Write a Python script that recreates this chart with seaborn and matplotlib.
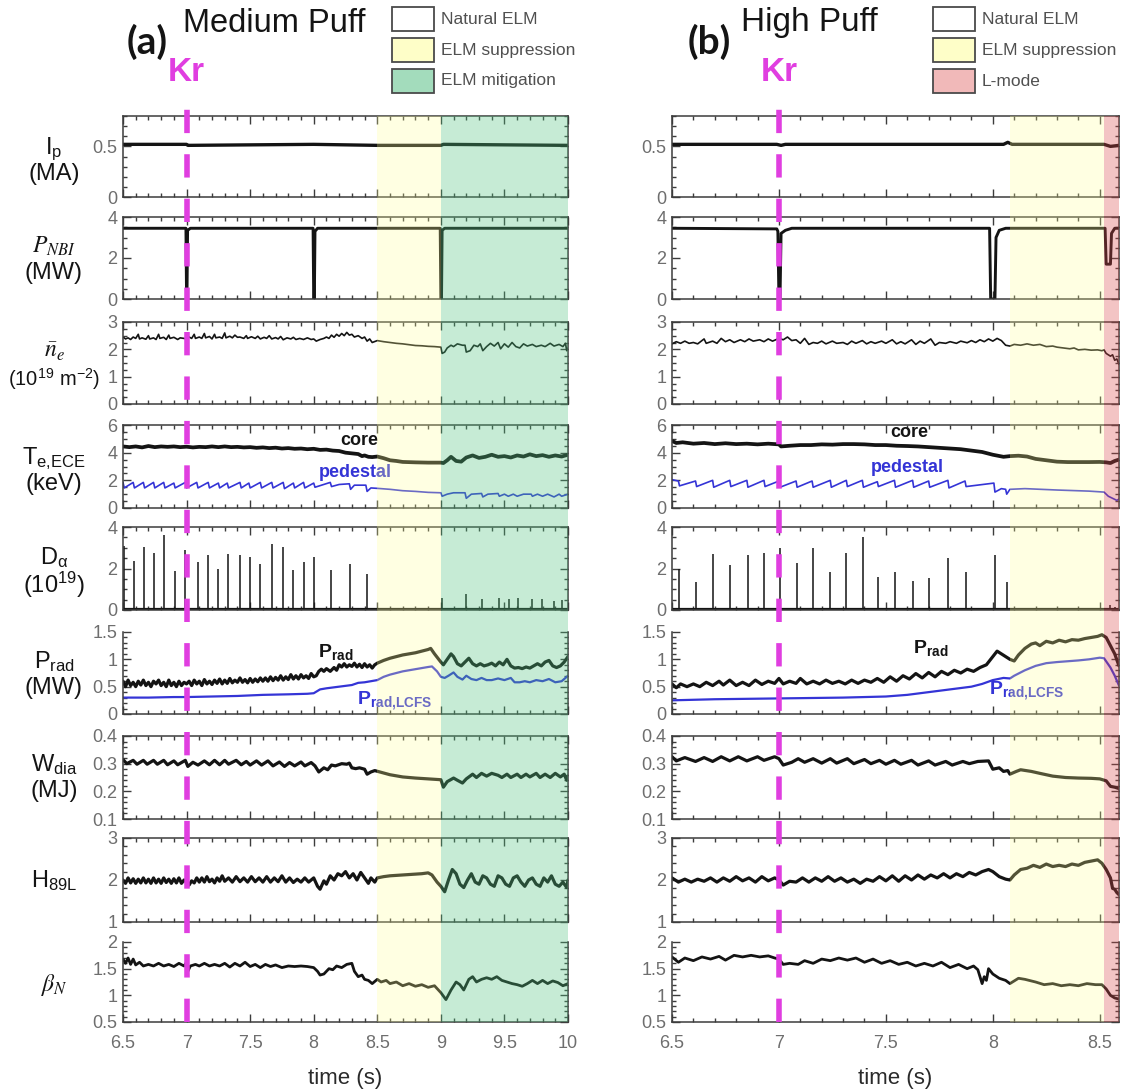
import matplotlib
matplotlib.use("Agg")
import matplotlib.pyplot as plt
import seaborn as sns
from matplotlib.patches import Rectangle
from matplotlib.ticker import MultipleLocator, FuncFormatter

sns.set_theme(style="ticks")
plt.rcParams["font.family"] = ["Liberation Sans", "DejaVu Sans"]
plt.rcParams["mathtext.fontset"] = "custom"
plt.rcParams["mathtext.rm"] = "Liberation Sans"
plt.rcParams["mathtext.it"] = "Liberation Sans:italic"
plt.rcParams["mathtext.bf"] = "Liberation Sans:bold"

# ---------------------------------------------------------------- data
KR_TIME = 7.0
XLIM_A = (6.5, 10.0)
XLIM_B = (6.5, 8.59)

# phase windows (start, end)
SUPPRESSION_A = (8.5, 9.0)
MITIGATION_A = (9.0, 10.0)
SUPPRESSION_B = (8.08, 8.52)
LMODE_B = (8.52, 8.59)

# plasma current (MA)
ip_a = [(6.5, 0.52), (7.0, 0.52), (7.01, 0.51), (8.0, 0.52), (8.5, 0.51),
        (9.0, 0.51), (9.02, 0.52), (10.0, 0.51)]
ip_b = [(6.5, 0.52), (6.99, 0.52), (7.01, 0.51), (7.03, 0.52), (8.05, 0.52),
        (8.07, 0.54), (8.09, 0.52), (8.52, 0.52), (8.55, 0.50), (8.59, 0.51)]

# NBI power (MW)
pnbi_a = [(6.5, 3.45), (6.995, 3.45), (7.0, 0.0), (7.003, 0.0), (7.008, 3.35),
          (7.03, 3.45), (7.995, 3.45), (8.0, 0.0), (8.005, 0.0), (8.01, 3.3),
          (8.03, 3.45), (8.995, 3.45), (9.0, 0.0), (9.005, 0.0), (9.01, 3.35),
          (9.03, 3.45), (10.0, 3.45)]
pnbi_b = [(6.5, 3.45), (6.99, 3.42), (6.995, 3.3), (7.0, 0.0), (7.005, 0.0),
          (7.01, 3.2), (7.03, 3.35), (7.06, 3.45), (7.985, 3.45), (7.99, 0.0),
          (8.01, 0.0), (8.015, 3.0), (8.03, 3.35), (8.06, 3.45), (8.525, 3.45),
          (8.53, 1.7), (8.55, 1.7), (8.555, 3.2), (8.57, 3.45), (8.59, 3.45)]

# line-averaged density (1e19 m^-2)
ne_a = [(6.50, 2.45), (6.52, 2.38), (6.54, 2.42), (6.56, 2.36), (6.58, 2.45),
        (6.60, 2.40), (6.62, 2.55), (6.63, 2.38), (6.65, 2.42), (6.68, 2.37),
        (6.70, 2.50), (6.71, 2.38), (6.74, 2.42), (6.76, 2.36), (6.78, 2.55),
        (6.79, 2.40), (6.82, 2.44), (6.84, 2.36), (6.86, 2.52), (6.87, 2.40),
        (6.90, 2.44), (6.93, 2.36), (6.95, 2.42), (6.98, 2.40), (7.00, 2.38),
        (7.02, 2.45), (7.04, 2.40), (7.06, 2.55), (7.07, 2.40), (7.10, 2.45),
        (7.12, 2.40), (7.14, 2.58), (7.15, 2.42), (7.18, 2.47), (7.20, 2.38),
        (7.22, 2.55), (7.23, 2.42), (7.26, 2.45), (7.28, 2.40), (7.30, 2.60),
        (7.31, 2.42), (7.34, 2.48), (7.36, 2.42), (7.38, 2.52), (7.40, 2.44),
        (7.42, 2.45), (7.45, 2.40), (7.47, 2.50), (7.48, 2.40), (7.51, 2.46),
        (7.54, 2.40), (7.56, 2.48), (7.58, 2.38), (7.61, 2.44), (7.63, 2.40),
        (7.65, 2.50), (7.67, 2.38), (7.70, 2.43), (7.72, 2.38), (7.74, 2.47),
        (7.76, 2.35), (7.79, 2.42), (7.82, 2.38), (7.84, 2.44), (7.86, 2.36),
        (7.89, 2.40), (7.92, 2.36), (7.95, 2.42), (7.98, 2.36), (8.00, 2.38),
        (8.02, 2.30), (8.05, 2.36), (8.08, 2.40), (8.10, 2.45), (8.12, 2.40),
        (8.14, 2.52), (8.16, 2.44), (8.18, 2.55), (8.20, 2.48), (8.22, 2.58),
        (8.24, 2.50), (8.26, 2.62), (8.28, 2.52), (8.30, 2.55), (8.32, 2.45),
        (8.35, 2.50), (8.38, 2.40), (8.40, 2.45), (8.42, 2.30), (8.44, 2.38),
        (8.46, 2.25), (8.50, 2.32), (8.55, 2.28), (8.60, 2.25), (8.65, 2.22),
        (8.70, 2.20), (8.75, 2.17), (8.80, 2.14), (8.85, 2.13), (8.90, 2.11),
        (8.95, 2.10), (9.00, 2.08), (9.01, 1.85), (9.03, 1.90), (9.05, 2.05),
        (9.08, 2.15), (9.10, 2.10), (9.13, 2.20), (9.17, 2.15), (9.19, 2.15),
        (9.20, 1.90), (9.23, 1.95), (9.26, 2.15), (9.29, 2.10), (9.31, 2.20),
        (9.33, 1.95), (9.36, 2.10), (9.39, 2.22), (9.42, 2.12), (9.45, 2.25),
        (9.47, 2.02), (9.50, 2.20), (9.53, 2.08), (9.56, 2.25), (9.59, 2.10),
        (9.62, 2.05), (9.65, 2.20), (9.68, 2.12), (9.72, 2.18), (9.75, 2.10),
        (9.79, 2.15), (9.82, 2.10), (9.86, 2.22), (9.89, 2.12), (9.93, 2.18),
        (9.96, 2.10), (9.98, 2.22), (9.99, 1.95), (10.0, 2.05)]
ne_b = [(6.50, 2.20), (6.52, 2.28), (6.54, 2.22), (6.56, 2.30), (6.58, 2.22),
        (6.60, 2.25), (6.62, 2.20), (6.65, 2.38), (6.66, 2.22), (6.69, 2.30),
        (6.71, 2.22), (6.73, 2.40), (6.75, 2.28), (6.77, 2.35), (6.79, 2.25),
        (6.82, 2.35), (6.84, 2.28), (6.86, 2.38), (6.88, 2.30), (6.91, 2.35),
        (6.93, 2.28), (6.95, 2.38), (6.97, 2.30), (7.00, 2.40), (7.02, 2.35),
        (7.04, 2.45), (7.06, 2.32), (7.08, 2.35), (7.10, 2.22), (7.12, 2.40),
        (7.14, 2.18), (7.16, 2.25), (7.18, 2.22), (7.20, 2.30), (7.22, 2.20),
        (7.25, 2.30), (7.27, 2.22), (7.30, 2.25), (7.32, 2.18), (7.34, 2.30),
        (7.36, 2.22), (7.39, 2.32), (7.41, 2.20), (7.43, 2.28), (7.45, 2.22),
        (7.48, 2.30), (7.50, 2.22), (7.53, 2.35), (7.55, 2.20), (7.57, 2.28),
        (7.59, 2.20), (7.62, 2.35), (7.64, 2.18), (7.66, 2.30), (7.68, 2.22),
        (7.71, 2.38), (7.73, 2.15), (7.75, 2.25), (7.78, 2.22), (7.80, 2.28),
        (7.83, 2.22), (7.85, 2.30), (7.88, 2.24), (7.90, 2.32), (7.92, 2.25),
        (7.94, 2.35), (7.96, 2.28), (7.98, 2.38), (8.00, 2.30), (8.02, 2.40),
        (8.04, 2.32), (8.06, 2.15), (8.08, 2.12), (8.10, 2.18), (8.13, 2.15),
        (8.16, 2.20), (8.19, 2.15), (8.22, 2.18), (8.25, 2.10), (8.28, 2.12),
        (8.30, 2.08), (8.33, 2.05), (8.36, 2.02), (8.38, 2.05), (8.40, 1.98),
        (8.43, 2.00), (8.46, 1.97), (8.49, 1.98), (8.51, 1.95), (8.52, 1.98),
        (8.53, 1.85), (8.55, 1.75), (8.56, 1.80), (8.57, 1.60), (8.58, 1.65),
        (8.59, 1.45)]

# ECE electron temperature (keV): core and pedestal channels
te_core_a = [(6.50, 4.45), (6.55, 4.40), (6.60, 4.45), (6.65, 4.38), (6.70, 4.48),
             (6.75, 4.40), (6.80, 4.45), (6.85, 4.42), (6.90, 4.45), (6.95, 4.40),
             (7.00, 4.43), (7.05, 4.38), (7.10, 4.42), (7.15, 4.40), (7.20, 4.45),
             (7.25, 4.40), (7.30, 4.45), (7.35, 4.40), (7.40, 4.42), (7.45, 4.38),
             (7.50, 4.40), (7.55, 4.35), (7.60, 4.38), (7.65, 4.33), (7.70, 4.36),
             (7.75, 4.30), (7.80, 4.33), (7.85, 4.28), (7.90, 4.30), (7.95, 4.25),
             (8.00, 4.28), (8.05, 4.20), (8.10, 4.22), (8.15, 4.15), (8.20, 4.12),
             (8.25, 4.00), (8.30, 3.95), (8.35, 3.90), (8.38, 3.75), (8.40, 3.80),
             (8.43, 3.70), (8.46, 3.68), (8.50, 3.72), (8.55, 3.60), (8.60, 3.45),
             (8.65, 3.40), (8.70, 3.33), (8.80, 3.30), (8.90, 3.28), (9.00, 3.28),
             (9.02, 3.25), (9.05, 3.45), (9.08, 3.70), (9.12, 3.40), (9.16, 3.35),
             (9.20, 3.65), (9.25, 3.80), (9.30, 3.62), (9.35, 3.70), (9.40, 3.85),
             (9.45, 3.70), (9.50, 3.75), (9.55, 3.65), (9.60, 3.80), (9.65, 3.72),
             (9.70, 3.88), (9.75, 3.75), (9.80, 3.82), (9.85, 3.70), (9.90, 3.80),
             (9.95, 3.72), (10.0, 3.85)]
te_ped_a = [(6.50, 1.85), (6.51, 1.45), (6.58, 1.85), (6.59, 1.45), (6.66, 1.85),
            (6.67, 1.45), (6.74, 1.85), (6.75, 1.45), (6.82, 1.85), (6.83, 1.45),
            (6.90, 1.80), (6.91, 1.45), (6.99, 1.85), (7.00, 1.45), (7.08, 1.85),
            (7.09, 1.45), (7.17, 1.85), (7.18, 1.45), (7.25, 1.80), (7.26, 1.45),
            (7.32, 1.80), (7.33, 1.45), (7.42, 1.85), (7.43, 1.45), (7.49, 1.80),
            (7.50, 1.45), (7.58, 1.85), (7.59, 1.45), (7.67, 1.85), (7.68, 1.45),
            (7.76, 1.85), (7.77, 1.40), (7.84, 1.80), (7.85, 1.45), (7.92, 1.85),
            (7.93, 1.45), (8.00, 1.80), (8.01, 1.50), (8.13, 1.85), (8.14, 1.55),
            (8.20, 1.70), (8.28, 1.75), (8.29, 1.35), (8.32, 1.65), (8.41, 1.65),
            (8.42, 1.20), (8.45, 1.45), (8.50, 1.42), (8.60, 1.35), (8.70, 1.25),
            (8.80, 1.20), (8.90, 1.13), (9.00, 1.10), (9.01, 0.85), (9.05, 1.00),
            (9.10, 1.10), (9.19, 1.10), (9.20, 0.70), (9.24, 1.00), (9.32, 1.05),
            (9.33, 0.80), (9.37, 1.00), (9.45, 1.05), (9.46, 0.85), (9.50, 1.00),
            (9.53, 0.85), (9.57, 1.00), (9.60, 0.85), (9.65, 1.00), (9.71, 1.00),
            (9.72, 0.85), (9.76, 1.00), (9.80, 0.85), (9.84, 1.00), (9.89, 0.80),
            (9.93, 1.00), (9.95, 0.85), (10.0, 1.00)]
te_core_b = [(6.50, 4.85), (6.52, 4.70), (6.55, 4.75), (6.60, 4.65), (6.65, 4.70),
             (6.70, 4.62), (6.75, 4.68), (6.80, 4.62), (6.85, 4.65), (6.90, 4.60),
             (6.95, 4.65), (7.00, 4.60), (7.01, 4.45), (7.05, 4.50), (7.10, 4.55),
             (7.15, 4.55), (7.20, 4.60), (7.25, 4.58), (7.30, 4.62), (7.35, 4.62),
             (7.40, 4.60), (7.45, 4.55), (7.50, 4.55), (7.55, 4.50), (7.60, 4.48),
             (7.65, 4.45), (7.70, 4.40), (7.75, 4.35), (7.80, 4.30), (7.85, 4.25),
             (7.90, 4.15), (7.95, 4.05), (8.00, 3.85), (8.05, 3.70), (8.08, 3.75),
             (8.12, 3.78), (8.16, 3.72), (8.20, 3.55), (8.25, 3.45), (8.30, 3.35),
             (8.35, 3.32), (8.40, 3.32), (8.45, 3.32), (8.50, 3.33), (8.53, 3.30),
             (8.55, 3.25), (8.57, 3.40), (8.59, 3.50)]
te_ped_b = [(6.50, 2.05), (6.53, 1.95), (6.535, 1.60), (6.61, 1.95), (6.615, 1.55),
            (6.69, 2.00), (6.695, 1.50), (6.77, 2.00), (6.775, 1.55), (6.85, 2.00),
            (6.855, 1.50), (6.93, 2.00), (6.935, 1.55), (7.00, 1.95), (7.005, 1.50),
            (7.08, 1.95), (7.085, 1.50), (7.155, 1.95), (7.16, 1.50), (7.24, 2.00),
            (7.245, 1.50), (7.315, 2.00), (7.32, 1.55), (7.39, 2.00), (7.395, 1.50),
            (7.46, 1.90), (7.465, 1.55), (7.54, 2.00), (7.545, 1.50), (7.625, 2.00),
            (7.63, 1.50), (7.70, 1.95), (7.705, 1.50), (7.79, 2.00), (7.795, 1.45),
            (7.87, 1.95), (7.875, 1.55), (8.005, 1.80), (8.01, 1.15), (8.04, 1.40),
            (8.06, 1.35), (8.065, 1.00), (8.08, 1.35), (8.15, 1.40), (8.30, 1.30),
            (8.45, 1.22), (8.52, 1.15), (8.54, 0.85), (8.56, 0.70), (8.58, 0.55),
            (8.59, 0.65)]

# D-alpha ELM spikes (time, peak) in 1e19
dalpha_a = [(6.509, 3.1), (6.584, 2.35), (6.665, 3.05), (6.746, 2.75), (6.824, 3.6),
            (6.906, 1.9), (6.990, 2.9), (7.086, 2.3), (7.170, 2.65), (7.251, 2.0),
            (7.326, 2.7), (7.422, 2.65), (7.497, 2.55), (7.581, 2.2), (7.672, 3.2),
            (7.762, 3.05), (7.840, 1.95), (7.927, 2.3), (8.002, 2.55), (8.137, 1.95),
            (8.287, 2.2), (8.417, 1.75), (9.008, 0.6), (9.198, 0.75), (9.324, 0.55),
            (9.459, 0.6), (9.534, 0.55), (9.609, 0.6), (9.714, 0.55), (9.798, 0.55),
            (9.888, 0.45), (9.954, 0.5)]
dalpha_b = [(6.531, 2.0), (6.611, 1.35), (6.690, 2.7), (6.772, 2.15), (6.854, 2.65),
            (6.930, 2.75), (7.003, 3.0), (7.083, 2.25), (7.157, 3.0), (7.240, 1.85),
            (7.315, 2.75), (7.394, 3.5), (7.464, 1.6), (7.543, 1.85), (7.626, 1.4),
            (7.700, 1.55), (7.791, 2.5), (7.874, 1.85), (8.010, 2.65), (8.065, 1.35),
            (8.550, 0.25), (8.570, 0.15)]
dalpha_base_a = [(6.5, 0.04), (10.0, 0.04)]
dalpha_base_b = [(6.5, 0.04), (8.59, 0.04)]

# radiated power (MW): total and inside the LCFS
prad_a = [(6.50, 0.60), (6.52, 0.50), (6.54, 0.62), (6.56, 0.52), (6.58, 0.58),
          (6.60, 0.50), (6.62, 0.60), (6.64, 0.53), (6.66, 0.62), (6.68, 0.52),
          (6.70, 0.58), (6.72, 0.50), (6.74, 0.60), (6.76, 0.55), (6.78, 0.62),
          (6.80, 0.52), (6.82, 0.58), (6.84, 0.50), (6.86, 0.62), (6.88, 0.52),
          (6.90, 0.58), (6.92, 0.50), (6.94, 0.60), (6.96, 0.52), (6.98, 0.58),
          (7.00, 0.55), (7.02, 0.60), (7.04, 0.52), (7.06, 0.62), (7.08, 0.55),
          (7.10, 0.60), (7.12, 0.52), (7.14, 0.63), (7.16, 0.55), (7.18, 0.60),
          (7.20, 0.54), (7.22, 0.62), (7.24, 0.56), (7.26, 0.64), (7.28, 0.55),
          (7.30, 0.62), (7.32, 0.56), (7.34, 0.65), (7.36, 0.57), (7.38, 0.62),
          (7.40, 0.58), (7.42, 0.66), (7.44, 0.58), (7.46, 0.63), (7.48, 0.57),
          (7.50, 0.65), (7.52, 0.58), (7.54, 0.64), (7.56, 0.59), (7.58, 0.66),
          (7.60, 0.60), (7.62, 0.66), (7.64, 0.60), (7.66, 0.68), (7.68, 0.61),
          (7.70, 0.67), (7.72, 0.62), (7.74, 0.70), (7.76, 0.62), (7.78, 0.68),
          (7.80, 0.63), (7.82, 0.72), (7.84, 0.64), (7.86, 0.70), (7.88, 0.64),
          (7.90, 0.72), (7.92, 0.66), (7.94, 0.70), (7.96, 0.65), (7.98, 0.74),
          (8.00, 0.68), (8.02, 0.70), (8.04, 0.78), (8.06, 0.82), (8.08, 0.78),
          (8.10, 0.83), (8.13, 0.78), (8.16, 0.85), (8.18, 0.80), (8.20, 0.90),
          (8.22, 0.86), (8.24, 0.92), (8.26, 0.86), (8.28, 0.90), (8.30, 0.87),
          (8.32, 0.93), (8.34, 0.86), (8.36, 0.91), (8.38, 0.85), (8.40, 0.92),
          (8.42, 0.86), (8.44, 0.90), (8.46, 0.84), (8.48, 0.90), (8.50, 0.93),
          (8.55, 0.98), (8.60, 1.02), (8.65, 1.05), (8.70, 1.08), (8.75, 1.10),
          (8.80, 1.12), (8.85, 1.15), (8.90, 1.18), (8.92, 1.20), (8.95, 1.10),
          (9.00, 0.95), (9.02, 0.90), (9.05, 1.00), (9.08, 1.10), (9.10, 1.05),
          (9.13, 0.92), (9.16, 0.88), (9.19, 0.95), (9.22, 1.02), (9.25, 0.92),
          (9.28, 0.88), (9.31, 0.92), (9.34, 0.88), (9.37, 0.90), (9.40, 0.93),
          (9.43, 0.88), (9.46, 0.95), (9.49, 0.90), (9.52, 1.00), (9.55, 0.88),
          (9.58, 0.84), (9.61, 0.85), (9.64, 0.83), (9.67, 0.86), (9.70, 0.84),
          (9.73, 0.88), (9.76, 0.92), (9.79, 0.88), (9.82, 0.95), (9.85, 0.98),
          (9.88, 0.88), (9.91, 0.85), (9.94, 0.88), (9.97, 0.95), (10.0, 1.05)]
prad_lcfs_a = [(6.50, 0.30), (6.70, 0.30), (6.90, 0.31), (7.00, 0.31), (7.20, 0.32),
               (7.40, 0.33), (7.60, 0.35), (7.80, 0.36), (7.95, 0.37), (8.00, 0.38),
               (8.05, 0.45), (8.10, 0.47), (8.20, 0.50), (8.30, 0.53), (8.35, 0.57),
               (8.40, 0.58), (8.45, 0.60), (8.50, 0.62), (8.55, 0.68), (8.60, 0.72),
               (8.70, 0.78), (8.80, 0.82), (8.90, 0.86), (8.93, 0.87), (8.97, 0.78),
               (9.00, 0.68), (9.03, 0.66), (9.06, 0.70), (9.10, 0.76), (9.13, 0.68),
               (9.17, 0.63), (9.20, 0.70), (9.24, 0.64), (9.28, 0.62), (9.32, 0.66),
               (9.36, 0.62), (9.40, 0.62), (9.45, 0.65), (9.50, 0.62), (9.55, 0.66),
               (9.58, 0.58), (9.62, 0.58), (9.66, 0.60), (9.70, 0.58), (9.75, 0.62),
               (9.80, 0.60), (9.85, 0.64), (9.90, 0.58), (9.95, 0.60), (10.0, 0.70)]
prad_b = [(6.50, 0.55), (6.52, 0.48), (6.54, 0.55), (6.57, 0.50), (6.60, 0.55),
          (6.63, 0.50), (6.66, 0.58), (6.69, 0.52), (6.72, 0.60), (6.74, 0.53),
          (6.77, 0.62), (6.80, 0.52), (6.83, 0.58), (6.86, 0.52), (6.89, 0.62),
          (6.92, 0.54), (6.95, 0.60), (6.98, 0.56), (7.00, 0.65), (7.02, 0.55),
          (7.05, 0.60), (7.08, 0.56), (7.10, 0.65), (7.13, 0.55), (7.16, 0.60),
          (7.19, 0.55), (7.22, 0.62), (7.25, 0.56), (7.28, 0.60), (7.31, 0.55),
          (7.34, 0.62), (7.37, 0.56), (7.40, 0.62), (7.43, 0.58), (7.46, 0.65),
          (7.49, 0.58), (7.52, 0.68), (7.55, 0.60), (7.58, 0.70), (7.61, 0.64),
          (7.64, 0.74), (7.67, 0.66), (7.70, 0.76), (7.73, 0.68), (7.76, 0.78),
          (7.79, 0.72), (7.82, 0.80), (7.85, 0.75), (7.88, 0.82), (7.91, 0.78),
          (7.94, 0.85), (7.97, 0.90), (8.00, 1.05), (8.02, 1.15), (8.04, 1.10),
          (8.06, 1.05), (8.08, 1.00), (8.10, 0.97), (8.12, 1.08), (8.15, 1.20),
          (8.18, 1.28), (8.20, 1.30), (8.22, 1.25), (8.25, 1.33), (8.28, 1.30),
          (8.31, 1.35), (8.34, 1.32), (8.37, 1.36), (8.40, 1.35), (8.43, 1.38),
          (8.46, 1.40), (8.49, 1.42), (8.51, 1.45), (8.53, 1.40), (8.55, 1.25),
          (8.57, 1.10), (8.59, 0.88)]
prad_lcfs_b = [(6.50, 0.25), (6.70, 0.27), (6.90, 0.28), (7.10, 0.29), (7.30, 0.30),
               (7.50, 0.32), (7.60, 0.35), (7.70, 0.40), (7.80, 0.45), (7.90, 0.50),
               (7.95, 0.55), (8.00, 0.62), (8.05, 0.66), (8.08, 0.65), (8.10, 0.70),
               (8.15, 0.80), (8.20, 0.88), (8.25, 0.93), (8.30, 0.95), (8.40, 0.98),
               (8.45, 1.00), (8.50, 1.03), (8.52, 1.02), (8.55, 0.85), (8.57, 0.70),
               (8.59, 0.52)]

# diamagnetic stored energy (MJ)
wdia_a = [(6.50, 0.315), (6.53, 0.300), (6.58, 0.312), (6.61, 0.298), (6.66, 0.312),
          (6.69, 0.298), (6.74, 0.312), (6.77, 0.298), (6.82, 0.312), (6.85, 0.296),
          (6.90, 0.310), (6.93, 0.296), (6.99, 0.312), (7.01, 0.290), (7.05, 0.305),
          (7.09, 0.295), (7.14, 0.310), (7.18, 0.296), (7.22, 0.312), (7.26, 0.296),
          (7.30, 0.312), (7.33, 0.298), (7.39, 0.312), (7.43, 0.296), (7.47, 0.308),
          (7.50, 0.295), (7.55, 0.310), (7.59, 0.295), (7.64, 0.310), (7.68, 0.292),
          (7.73, 0.306), (7.77, 0.290), (7.81, 0.304), (7.85, 0.292), (7.90, 0.306),
          (7.93, 0.292), (7.98, 0.304), (8.01, 0.292), (8.04, 0.270), (8.08, 0.285),
          (8.11, 0.278), (8.14, 0.295), (8.17, 0.292), (8.22, 0.300), (8.26, 0.298),
          (8.28, 0.302), (8.30, 0.285), (8.33, 0.282), (8.36, 0.285), (8.40, 0.280),
          (8.42, 0.262), (8.45, 0.270), (8.48, 0.275), (8.52, 0.270), (8.60, 0.260),
          (8.70, 0.252), (8.80, 0.248), (8.90, 0.245), (9.00, 0.242), (9.02, 0.215),
          (9.05, 0.235), (9.10, 0.248), (9.13, 0.240), (9.17, 0.230), (9.20, 0.245),
          (9.25, 0.262), (9.28, 0.250), (9.32, 0.265), (9.36, 0.255), (9.40, 0.265),
          (9.45, 0.258), (9.48, 0.250), (9.52, 0.262), (9.55, 0.250), (9.60, 0.262),
          (9.63, 0.250), (9.67, 0.262), (9.70, 0.252), (9.75, 0.265), (9.78, 0.250),
          (9.82, 0.262), (9.86, 0.250), (9.90, 0.265), (9.94, 0.252), (9.97, 0.262),
          (9.99, 0.240), (10.0, 0.255)]
wdia_b = [(6.50, 0.325), (6.52, 0.310), (6.56, 0.322), (6.61, 0.308), (6.65, 0.322),
          (6.69, 0.308), (6.73, 0.325), (6.77, 0.310), (6.81, 0.325), (6.85, 0.310),
          (6.90, 0.325), (6.93, 0.312), (6.98, 0.325), (7.00, 0.318), (7.02, 0.295),
          (7.06, 0.305), (7.09, 0.318), (7.12, 0.305), (7.16, 0.318), (7.20, 0.302),
          (7.24, 0.318), (7.27, 0.302), (7.32, 0.318), (7.35, 0.300), (7.40, 0.315),
          (7.43, 0.300), (7.47, 0.312), (7.50, 0.298), (7.54, 0.312), (7.57, 0.298),
          (7.62, 0.312), (7.65, 0.295), (7.70, 0.310), (7.73, 0.295), (7.78, 0.308),
          (7.81, 0.295), (7.86, 0.308), (7.89, 0.300), (7.93, 0.308), (7.98, 0.310),
          (8.00, 0.280), (8.03, 0.285), (8.05, 0.272), (8.07, 0.275), (8.08, 0.262),
          (8.11, 0.272), (8.13, 0.278), (8.18, 0.272), (8.22, 0.265), (8.28, 0.255),
          (8.34, 0.250), (8.40, 0.248), (8.46, 0.247), (8.50, 0.245), (8.53, 0.238),
          (8.55, 0.218), (8.57, 0.215), (8.59, 0.210)]

# confinement factor H89L
h89_a = [(6.50, 2.00), (6.52, 1.92), (6.54, 2.05), (6.56, 1.93), (6.58, 2.03),
         (6.60, 1.92), (6.62, 2.02), (6.64, 1.93), (6.66, 2.05), (6.68, 1.93),
         (6.70, 2.02), (6.72, 1.92), (6.74, 2.05), (6.76, 1.93), (6.78, 2.02),
         (6.80, 1.92), (6.82, 2.05), (6.84, 1.94), (6.86, 2.02), (6.88, 1.92),
         (6.90, 2.03), (6.92, 1.93), (6.94, 2.05), (6.96, 1.92), (6.98, 2.00),
         (7.00, 1.95), (7.02, 1.88), (7.04, 1.98), (7.06, 1.93), (7.08, 2.05),
         (7.10, 1.95), (7.12, 2.05), (7.14, 1.95), (7.16, 2.08), (7.18, 1.96),
         (7.20, 2.02), (7.22, 1.93), (7.24, 2.05), (7.26, 1.97), (7.28, 2.10),
         (7.30, 1.97), (7.33, 2.05), (7.36, 1.95), (7.39, 2.08), (7.42, 1.96),
         (7.45, 2.05), (7.48, 1.95), (7.51, 2.08), (7.54, 1.96), (7.57, 2.05),
         (7.60, 1.95), (7.63, 2.08), (7.66, 1.95), (7.69, 2.05), (7.72, 1.96),
         (7.75, 2.10), (7.78, 1.95), (7.81, 2.05), (7.84, 1.94), (7.87, 2.02),
         (7.90, 1.95), (7.93, 2.05), (7.96, 1.95), (8.00, 2.05), (8.03, 1.85),
         (8.05, 1.78), (8.08, 1.98), (8.10, 1.90), (8.13, 2.10), (8.16, 2.00),
         (8.19, 2.15), (8.22, 2.10), (8.25, 2.20), (8.28, 2.05), (8.31, 2.15),
         (8.34, 2.00), (8.37, 2.18), (8.40, 2.05), (8.43, 1.92), (8.45, 2.05),
         (8.48, 1.95), (8.50, 2.05), (8.55, 2.08), (8.60, 2.10), (8.70, 2.12),
         (8.80, 2.14), (8.85, 2.15), (8.90, 2.17), (8.93, 2.12), (8.97, 1.95),
         (9.00, 1.85), (9.03, 1.72), (9.06, 2.00), (9.09, 2.25), (9.12, 2.15),
         (9.15, 1.90), (9.18, 1.82), (9.21, 2.00), (9.24, 2.15), (9.27, 1.95),
         (9.30, 1.90), (9.33, 2.10), (9.36, 2.05), (9.39, 1.90), (9.42, 1.85),
         (9.45, 2.10), (9.48, 2.05), (9.51, 1.90), (9.54, 1.85), (9.57, 2.05),
         (9.60, 2.10), (9.63, 1.95), (9.66, 1.85), (9.69, 2.00), (9.72, 2.05),
         (9.75, 1.90), (9.78, 1.85), (9.81, 2.05), (9.84, 1.95), (9.87, 2.10),
         (9.90, 1.90), (9.93, 1.85), (9.96, 1.95), (9.99, 1.82), (10.0, 2.00)]
h89_b = [(6.50, 2.05), (6.53, 1.95), (6.56, 2.02), (6.59, 1.95), (6.62, 2.02),
         (6.65, 1.97), (6.68, 2.05), (6.71, 1.95), (6.74, 2.05), (6.77, 1.97),
         (6.80, 2.08), (6.83, 1.98), (6.86, 2.05), (6.89, 1.95), (6.92, 2.08),
         (6.95, 1.98), (6.98, 2.05), (7.00, 2.00), (7.02, 1.88), (7.05, 1.97),
         (7.08, 1.95), (7.11, 2.05), (7.14, 1.95), (7.17, 2.05), (7.20, 1.97),
         (7.23, 2.08), (7.26, 1.97), (7.29, 2.05), (7.32, 1.95), (7.35, 2.02),
         (7.38, 1.92), (7.41, 2.02), (7.44, 1.97), (7.47, 2.08), (7.50, 1.98),
         (7.53, 2.10), (7.56, 1.97), (7.59, 2.10), (7.62, 2.00), (7.65, 2.12),
         (7.68, 2.02), (7.71, 2.12), (7.74, 2.05), (7.77, 2.15), (7.80, 2.05),
         (7.83, 2.15), (7.86, 2.08), (7.89, 2.18), (7.92, 2.12), (7.95, 2.20),
         (7.98, 2.25), (8.00, 2.20), (8.03, 2.08), (8.06, 2.02), (8.08, 2.00),
         (8.10, 2.12), (8.13, 2.25), (8.16, 2.28), (8.19, 2.35), (8.22, 2.30),
         (8.25, 2.38), (8.28, 2.32), (8.31, 2.35), (8.34, 2.32), (8.37, 2.38),
         (8.40, 2.35), (8.43, 2.42), (8.46, 2.45), (8.49, 2.48), (8.51, 2.40),
         (8.53, 2.25), (8.55, 2.05), (8.56, 1.80), (8.57, 1.78), (8.58, 1.70),
         (8.59, 1.65)]

# normalised beta
betan_a = [(6.50, 1.68), (6.52, 1.60), (6.54, 1.70), (6.56, 1.58), (6.58, 1.68),
           (6.60, 1.57), (6.63, 1.62), (6.66, 1.55), (6.70, 1.58), (6.74, 1.55),
           (6.78, 1.60), (6.82, 1.55), (6.86, 1.58), (6.90, 1.54), (6.94, 1.60),
           (6.98, 1.55), (7.00, 1.62), (7.01, 1.45), (7.03, 1.55), (7.07, 1.58),
           (7.10, 1.55), (7.14, 1.60), (7.18, 1.55), (7.22, 1.58), (7.26, 1.55),
           (7.30, 1.60), (7.34, 1.53), (7.38, 1.60), (7.42, 1.55), (7.46, 1.62),
           (7.50, 1.54), (7.54, 1.58), (7.58, 1.52), (7.62, 1.58), (7.66, 1.54),
           (7.70, 1.57), (7.75, 1.52), (7.80, 1.55), (7.85, 1.54), (7.90, 1.55),
           (7.95, 1.54), (8.00, 1.52), (8.03, 1.45), (8.05, 1.38), (8.08, 1.40),
           (8.12, 1.50), (8.15, 1.48), (8.18, 1.55), (8.22, 1.52), (8.26, 1.58),
           (8.30, 1.60), (8.32, 1.45), (8.35, 1.35), (8.38, 1.38), (8.40, 1.30),
           (8.43, 1.28), (8.46, 1.22), (8.50, 1.30), (8.53, 1.25), (8.57, 1.28),
           (8.60, 1.22), (8.65, 1.25), (8.70, 1.18), (8.75, 1.22), (8.80, 1.17),
           (8.85, 1.20), (8.90, 1.15), (8.95, 1.18), (9.00, 1.05), (9.04, 0.92),
           (9.08, 1.10), (9.12, 1.25), (9.15, 1.20), (9.18, 1.10), (9.22, 1.30),
           (9.25, 1.35), (9.28, 1.25), (9.32, 1.30), (9.36, 1.33), (9.40, 1.30),
           (9.44, 1.35), (9.48, 1.28), (9.52, 1.25), (9.56, 1.22), (9.60, 1.20),
           (9.64, 1.17), (9.68, 1.22), (9.72, 1.28), (9.76, 1.22), (9.80, 1.28),
           (9.84, 1.22), (9.88, 1.27), (9.92, 1.24), (9.96, 1.18), (10.0, 1.22)]
betan_b = [(6.50, 1.72), (6.53, 1.62), (6.56, 1.70), (6.60, 1.65), (6.64, 1.72),
           (6.68, 1.68), (6.72, 1.73), (6.75, 1.66), (6.79, 1.75), (6.83, 1.72),
           (6.87, 1.75), (6.91, 1.72), (6.95, 1.74), (6.98, 1.70), (7.00, 1.68),
           (7.02, 1.58), (7.05, 1.60), (7.09, 1.58), (7.12, 1.65), (7.16, 1.60),
           (7.20, 1.68), (7.24, 1.65), (7.28, 1.70), (7.32, 1.66), (7.36, 1.70),
           (7.40, 1.62), (7.44, 1.68), (7.48, 1.60), (7.52, 1.65), (7.56, 1.58),
           (7.60, 1.62), (7.64, 1.55), (7.68, 1.60), (7.72, 1.55), (7.76, 1.62),
           (7.80, 1.52), (7.84, 1.58), (7.88, 1.50), (7.91, 1.55), (7.93, 1.48),
           (7.95, 1.22), (7.96, 1.35), (7.97, 1.28), (7.98, 1.50), (8.00, 1.40),
           (8.03, 1.32), (8.06, 1.28), (8.08, 1.22), (8.12, 1.32), (8.15, 1.30),
           (8.20, 1.25), (8.24, 1.20), (8.28, 1.22), (8.32, 1.18), (8.36, 1.20),
           (8.40, 1.18), (8.44, 1.22), (8.48, 1.20), (8.51, 1.20), (8.53, 1.12),
           (8.55, 1.00), (8.57, 0.95), (8.59, 0.93)]

# row labels: (quantity, unit, quantity y, unit y) with y in pixels from the top
ROW_LABELS = [(r"I$_\mathrm{p}$", "(MA)", 149, 174),
              (r"$P_{NBI}$", "(MW)", 246, 273),
              (r"$\bar{n}_e$", r"(10$^{19}$ m$^{-2}$)", 352, 379),
              (r"T$_\mathrm{e{,}ECE}$", "(keV)", 459, 484),
              (r"D$_\mathrm{α}$", r"(10$^{19}$)", 558, 585),
              (r"P$_\mathrm{rad}$", "(MW)", 662, 688),
              (r"W$_\mathrm{dia}$", "(MJ)", 765, 791),
              (r"H$_\mathrm{89L}$", None, 881, None),
              (r"$\beta_N$", None, 985, None)]
ROW_YLIMS = [(0, 0.8), (0, 4), (0, 3), (0, 6), (0, 4), (0, 1.5),
             (0.1, 0.4), (1, 3), (0.5, 2)]
ROW_MAJOR = [0.5, 2, 1, 2, 2, 0.5, 0.1, 1, 0.5]
ROW_MINOR = [0.1, 0.5, 0.25, 0.5, 0.5, 0.1, 0.02, 0.2, 0.1]

# ---------------------------------------------------------------- style
W, H = 1127, 1089
BLACK = "#141414"
BLUE = "#3434d6"
MAGENTA = "#e03ee0"
SPINE = "#3c3c3c"
TICKLAB = "#6e6e6e"
YELLOW_OVL = (1.0, 1.0, 0.58)
GREEN_OVL = (0.32, 0.77, 0.50)
PINK_OVL = (0.86, 0.30, 0.30)

PANEL_TOPS = [116, 217, 322, 425, 527, 632, 736, 838, 942]
PANEL_BOTTOMS = [197, 299, 404, 508, 610, 714, 819, 922, 1022]


def frac_rect(x0, x1, top, bottom):
    return [x0 / W, 1 - bottom / H, (x1 - x0) / W, (bottom - top) / H]


def draw_series(ax, pairs, color, lw):
    t, v = zip(*pairs)
    sns.lineplot(x=list(t), y=list(v), ax=ax, color=color, linewidth=lw,
                 estimator=None, sort=False, legend=False)


fmt = FuncFormatter(lambda v, _: f"{v:g}")

fig = plt.figure(figsize=(W / 100, H / 100), dpi=100)

columns = [
    dict(x0=123, x1=568, xlim=XLIM_A,
         ip=ip_a, pnbi=pnbi_a, ne=ne_a, te_core=te_core_a, te_ped=te_ped_a,
         dalpha=dalpha_a, dbase=dalpha_base_a, prad=prad_a, prad_lcfs=prad_lcfs_a,
         wdia=wdia_a, h89=h89_a, betan=betan_a,
         spans=[(SUPPRESSION_A, YELLOW_OVL, 0.27), (MITIGATION_A, GREEN_OVL, 0.33)],
         core_xy=(8.36, 4.9), ped_xy=(8.33, 2.55),
         prad_xy=(8.17, 1.13), lcfs_xy=(8.64, 0.24)),
    dict(x0=672, x1=1119, xlim=XLIM_B,
         ip=ip_b, pnbi=pnbi_b, ne=ne_b, te_core=te_core_b, te_ped=te_ped_b,
         dalpha=dalpha_b, dbase=dalpha_base_b, prad=prad_b, prad_lcfs=prad_lcfs_b,
         wdia=wdia_b, h89=h89_b, betan=betan_b,
         spans=[(SUPPRESSION_B, YELLOW_OVL, 0.27), (LMODE_B, PINK_OVL, 0.33)],
         core_xy=(7.61, 5.45), ped_xy=(7.6, 2.95),
         prad_xy=(7.71, 1.2), lcfs_xy=(8.16, 0.42)),
]

for ci, col in enumerate(columns):
    axes = []
    for r in range(9):
        ax = fig.add_axes(frac_rect(col["x0"], col["x1"], PANEL_TOPS[r], PANEL_BOTTOMS[r]))
        ax.set_zorder(1)
        ax.patch.set_alpha(0)
        ax.set_xlim(col["xlim"])
        ax.set_ylim(ROW_YLIMS[r])
        ax.xaxis.set_major_locator(MultipleLocator(0.5))
        ax.xaxis.set_minor_locator(MultipleLocator(0.1))
        ax.yaxis.set_major_locator(MultipleLocator(ROW_MAJOR[r]))
        ax.yaxis.set_minor_locator(MultipleLocator(ROW_MINOR[r]))
        ax.yaxis.set_major_formatter(fmt)
        ax.xaxis.set_major_formatter(fmt)
        no_top = r in (5, 8)
        ax.tick_params(which="both", direction="in", top=not no_top, right=True,
                       color=SPINE, width=1.0, labelcolor=TICKLAB, labelsize=13, pad=4)
        ax.tick_params(which="major", length=5.5)
        ax.tick_params(which="minor", length=3)
        ax.tick_params(axis="x", pad=9)
        if r < 8:
            ax.tick_params(axis="x", which="both", labelbottom=False)
        for side, sp in ax.spines.items():
            sp.set_color(SPINE)
            sp.set_linewidth(1.1)
        if no_top:
            ax.spines["top"].set_visible(False)
        ax.set_xlabel("")
        ax.set_ylabel("")
        axes.append(ax)

    draw_series(axes[0], col["ip"], BLACK, 2.4)
    draw_series(axes[1], col["pnbi"], BLACK, 2.1)
    draw_series(axes[2], col["ne"], BLACK, 1.2)
    draw_series(axes[3], col["te_core"], BLACK, 2.7)
    draw_series(axes[3], col["te_ped"], BLUE, 1.2)
    dt, dh = zip(*col["dalpha"])
    axes[4].vlines(dt, 0, dh, color=BLACK, linewidth=1.1)
    draw_series(axes[4], col["dbase"], BLACK, 1.6)
    draw_series(axes[5], col["prad"], BLACK, 2.3)
    draw_series(axes[5], col["prad_lcfs"], BLUE, 1.6)
    draw_series(axes[6], col["wdia"], BLACK, 2.3)
    draw_series(axes[7], col["h89"], BLACK, 2.3)
    draw_series(axes[8], col["betan"], BLACK, 2.0)

    axes[3].text(*col["core_xy"], "core", color=BLACK, fontsize=13,
                 fontweight="bold", ha="center", va="center")
    axes[3].text(*col["ped_xy"], "pedestal", color=BLUE, fontsize=13,
                 fontweight="bold", ha="center", va="center")
    axes[5].text(*col["prad_xy"], r"$\mathbf{P_{rad}}$", color=BLACK, fontsize=14,
                 ha="center", va="center")
    axes[5].text(*col["lcfs_xy"], r"$\mathbf{P_{rad{,}LCFS}}$", color=BLUE, fontsize=14,
                 ha="center", va="center")
    axes[8].set_xlabel("time (s)", fontsize=16, color="#2a2a2a", labelpad=12)

    # translucent phase bands across the whole column
    shade = fig.add_axes(frac_rect(col["x0"], col["x1"], PANEL_TOPS[0], PANEL_BOTTOMS[-1]))
    shade.set_zorder(5)
    shade.set_xlim(col["xlim"])
    shade.set_ylim(0, 1)
    shade.axis("off")
    for (t0, t1), c, a in col["spans"]:
        shade.axvspan(t0, t1, color=c, alpha=a, linewidth=0)

    # krypton injection marker
    kr = fig.add_axes(frac_rect(col["x0"], col["x1"], 90, PANEL_BOTTOMS[-1]))
    kr.set_zorder(6)
    kr.set_xlim(col["xlim"])
    kr.set_ylim(0, 1)
    kr.axis("off")
    kr.axvline(KR_TIME, color=MAGENTA, linewidth=4.0, linestyle=(0, (4.2, 3.8)))
    kr.annotate("Kr", xy=(KR_TIME, 1), xycoords=("data", "axes fraction"),
                xytext=(0, 18), textcoords="offset pixels", ha="center", va="center",
                fontsize=24, fontweight="bold", color=MAGENTA)

# row labels on the left
for r, (qty, unit, yq, yu) in enumerate(ROW_LABELS):
    kw = {"math_fontfamily": "stix"} if r in (1, 2, 8) else {}
    fig.text(54 / W, 1 - yq / H, qty, ha="center", va="center",
             fontsize=17, color=BLACK, **kw)
    if unit is not None:
        fig.text(54 / W, 1 - yu / H, unit, ha="center", va="center",
                 fontsize=14.5 if r == 2 else 17, color=BLACK)

# panel titles
fig.text(127 / W, 1 - 42 / H, "(a)", fontsize=28, fontweight="bold",
         family=["Lato", "DejaVu Sans"], ha="left", va="center", color=BLACK)
fig.text(183 / W, 1 - 23 / H, "Medium Puff", fontsize=23.5, ha="left", va="center",
         color=BLACK)
fig.text(688 / W, 1 - 42 / H, "(b)", fontsize=28, fontweight="bold",
         family=["Lato", "DejaVu Sans"], ha="left", va="center", color=BLACK)
fig.text(741 / W, 1 - 23 / H, "High Puff", fontsize=24, ha="left", va="center",
         color=BLACK)

# phase legends: boxes with labels
EDGE = "#4a4a4a"
LEGEND_ROWS_A = [("white", "Natural ELM"), ("#fefec8", "ELM suppression"),
                 ("#a3dcbc", "ELM mitigation")]
LEGEND_ROWS_B = [("white", "Natural ELM"), ("#fefec8", "ELM suppression"),
                 ("#f1b9b9", "L-mode")]
BOX_TOPS = [7, 38, 69]
BOX_W, BOX_H = 42, 24
for rows, x in ((LEGEND_ROWS_A, 392), (LEGEND_ROWS_B, 933)):
    for (fc, lab), top in zip(rows, BOX_TOPS):
        fig.add_artist(Rectangle((x / W, 1 - (top + BOX_H) / H), BOX_W / W, BOX_H / H,
                                 transform=fig.transFigure, facecolor=fc,
                                 edgecolor=EDGE, linewidth=1.3))
        fig.text((x + BOX_W + 7) / W, 1 - (top + BOX_H / 2) / H, lab,
                 ha="left", va="center", fontsize=12.5, color="#505050")

fig.savefig("out.png", dpi=100)
